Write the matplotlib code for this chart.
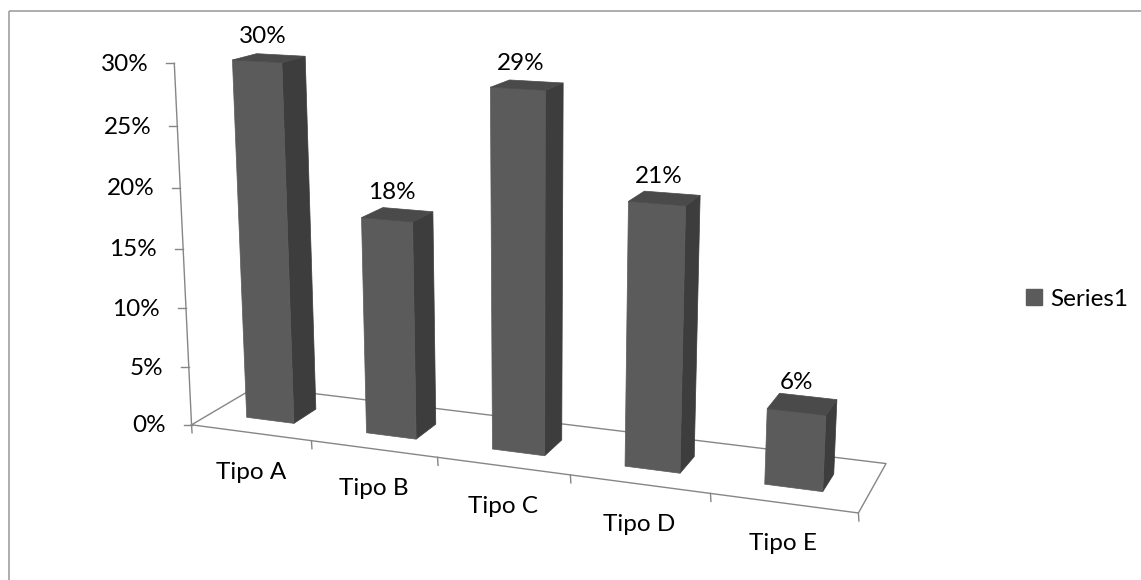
import numpy as np
import matplotlib
matplotlib.use('Agg')
from matplotlib import pyplot as plt
from matplotlib.patches import Polygon, Patch, Rectangle

categories = ['Tipo A', 'Tipo B', 'Tipo C', 'Tipo D', 'Tipo E']
shares = [0.30, 0.18, 0.29, 0.21, 0.06]
value_ticks = [0.0, 0.05, 0.10, 0.15, 0.20, 0.25, 0.30]
value_tick_labels = ['0%', '5%', '10%', '15%', '20%', '25%', '30%']
series_name = 'Series1'

# perspective camera: (category, depth, value, 1) -> homogeneous pixel coords
CAMERA = np.array([
    [112.2212, 81.5285, -85.4074, 191.5404],
    [4.9917, -13.3320, -1215.0972, 424.8185],
    [-0.024640, 0.064683, -0.160237, 1.0],
])

BAR_HALF_WIDTH = 0.2
BAR_FRONT, BAR_BACK = 0.30, 0.66

FRONT_COLOR = '#5b5b5b'
SIDE_COLOR = '#3d3d3d'
TOP_COLOR = '#4a4a4a'
LINE_COLOR = '#868686'
FONT_SIZE = 17.5

plt.rcParams['font.family'] = ['Lato', 'DejaVu Sans']


def project(x, y, z):
    h = CAMERA @ np.array([x, y, z, 1.0])
    return h[0] / h[2], h[1] / h[2]


def project_many(points):
    return [project(*p) for p in points]


fig = plt.figure(figsize=(11.41, 5.80), dpi=100)
ax = fig.add_axes([0, 0, 1, 1])
ax.set_xlim(0, 1141)
ax.set_ylim(580, 0)
ax.axis('off')

# chart border
ax.add_patch(Rectangle((9, 11), 1200, 700, fill=False, edgecolor='#a0a0a0', linewidth=1.2, zorder=0))

n = len(categories)
top_value = value_ticks[-1]

# floor outline
floor = project_many([(0, 0, 0), (n, 0, 0), (n, 1, 0), (0, 1, 0), (0, 0, 0)])
ax.plot(*zip(*floor), color=LINE_COLOR, linewidth=1.0, zorder=1)

# value axis with ticks
axis_line = project_many([(0, 0, 0), (0, 0, top_value)])
ax.plot(*zip(*axis_line), color=LINE_COLOR, linewidth=1.0, zorder=1)
for t, lab in zip(value_ticks, value_tick_labels):
    px, py = project(0, 0, t)
    ax.plot([px - 8, px], [py, py], color=LINE_COLOR, linewidth=1.0, zorder=1)
    ax.text(px - 26, py + 1, lab, ha='right', va='center', fontsize=FONT_SIZE, color='black')

# category ticks along the front edge
for k in range(n + 1):
    px, py = project(k, 0, 0)
    ax.plot([px, px + 0.5], [py, py + 8], color=LINE_COLOR, linewidth=1.0, zorder=1)

# bars: front, side and top faces
for i, (cat, v) in enumerate(zip(categories, shares)):
    xl = i + 0.5 - BAR_HALF_WIDTH
    xr = i + 0.5 + BAR_HALF_WIDTH
    front = [(xl, BAR_FRONT, 0), (xr, BAR_FRONT, 0), (xr, BAR_FRONT, v), (xl, BAR_FRONT, v)]
    side = [(xr, BAR_FRONT, 0), (xr, BAR_BACK, 0), (xr, BAR_BACK, v), (xr, BAR_FRONT, v)]
    top = [(xl, BAR_FRONT, v), (xr, BAR_FRONT, v), (xr, BAR_BACK, v), (xl, BAR_BACK, v)]
    for face, color in ((side, SIDE_COLOR), (front, FRONT_COLOR), (top, TOP_COLOR)):
        ax.add_patch(Polygon(project_many(face), closed=True, facecolor=color,
                             edgecolor=color, linewidth=0.5, zorder=2 + i * 0.1))

    # value label above the top face
    cx, cy = project(i + 0.5, (BAR_FRONT + BAR_BACK) / 2, v)
    ax.text(cx - 6, cy - 22, '{:.0%}'.format(v), ha='center', va='center',
            fontsize=FONT_SIZE, color='black', zorder=5)

    # category label under the front edge
    lx, ly = project(i + 0.5, 0, 0)
    ax.text(lx, ly + 40, cat, ha='center', va='center', fontsize=FONT_SIZE, color='black')

legend_anchor = (1026, 299)
ax.legend(handles=[Patch(facecolor=FRONT_COLOR, edgecolor=FRONT_COLOR, label=series_name)],
          loc='center left', bbox_to_anchor=legend_anchor, bbox_transform=ax.transData,
          frameon=False, fontsize=FONT_SIZE, handlelength=0.65, handleheight=0.65,
          handletextpad=0.35, borderpad=0, borderaxespad=0)

fig.savefig('out.png', dpi=100)
